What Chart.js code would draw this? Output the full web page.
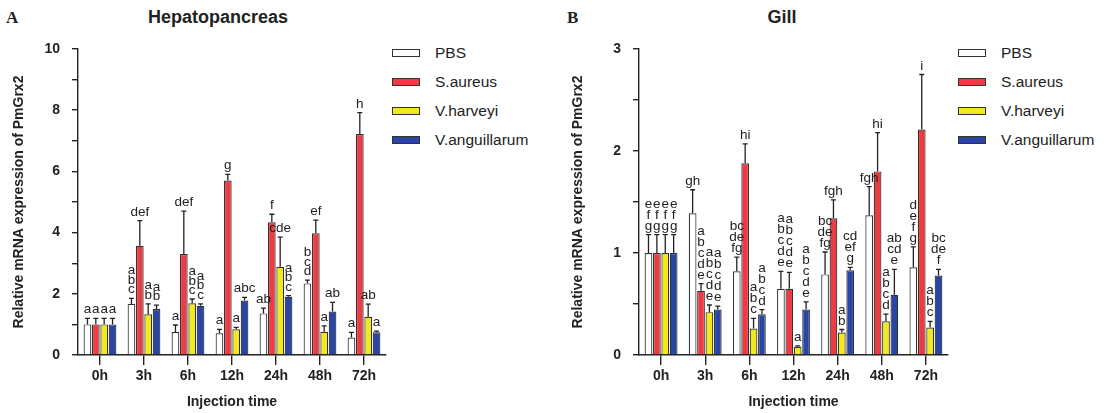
<!DOCTYPE html>
<html lang="en">
<head>
<meta charset="UTF-8">
<title>PmGrx2 expression</title>
<script src="https://cdn.jsdelivr.net/npm/chart.js"></script>
<style>
    body {
        margin: 0;
        width: 1109px;
        height: 413px;
        background: #fff;
        position: relative;
        overflow: hidden;
        font-family: "Liberation Sans", Arial, sans-serif;
        color: #222;
    }
    canvas { position: absolute; top: 0; }
    .tag { position: absolute; top: 8px; font: bold 17px "Liberation Serif", "Times New Roman", serif; }
    .title { position: absolute; top: 7px; font-weight: bold; font-size: 18px; transform: translateX(-50%); white-space: nowrap; }
    .legend { position: absolute; top: 38px; }
    .legend div { height: 29px; display: flex; align-items: center; font-size: 15.5px; }
    .legend .box { width: 26px; height: 6px; border: 1.3px solid #333; margin-right: 15px; }
</style>
</head>
<body>

<div class="tag" style="left:6px">A</div>
<div class="title" style="left:218px">Hepatopancreas</div>
<canvas id="hepChart" width="390" height="413" style="left:0"></canvas>
<div class="legend" id="hepLegend" style="left:392px"></div>

<div class="tag" style="left:567px">B</div>
<div class="title" style="left:782px">Gill</div>
<canvas id="gillChart" width="392" height="413" style="left:560px"></canvas>
<div class="legend" id="gillLegend" style="left:958px"></div>

<script>
    const times = ['0h', '3h', '6h', '12h', '24h', '48h', '72h'];
    const groups = ['PBS', 'S.aureus', 'V.harveyi', 'V.anguillarum'];
    const colors = ['#ffffff', '#ec3b41', '#f2e81e', '#2a46a5'];

    // Hepatopancreas: mean, upper error, significance letters
    const hepPBS = [1.0, 1.67, 0.75, 0.71, 1.36, 2.34, 0.57];
    const hepSaureus = [1.0, 3.57, 3.30, 5.70, 4.34, 3.98, 7.22];
    const hepVharveyi = [1.0, 1.33, 1.69, 0.84, 2.88, 0.76, 1.25];
    const hepVanguill = [1.0, 1.50, 1.61, 1.78, 1.90, 1.42, 0.74];
    const hepPBSErr = [0.2, 0.18, 0.23, 0.13, 0.17, 0.11, 0.17];
    const hepSaureusErr = [0.2, 0.82, 1.40, 0.20, 0.26, 0.43, 0.70];
    const hepVharveyiErr = [0.2, 0.34, 0.14, 0.06, 0.97, 0.19, 0.41];
    const hepVanguillErr = [0.2, 0.13, 0.06, 0.10, 0.04, 0.30, 0.04];
    const hepPBSSig = ['a', 'a\nb\nc', 'a', 'a', 'ab', 'b\nc\nd', 'a'];
    const hepSaureusSig = ['a', 'def', 'def', 'g', 'f', 'ef', 'h'];
    const hepVharveyiSig = ['a', 'a\nb', 'a\nb\nc', 'a', 'cde', 'a', 'ab'];
    const hepVanguillSig = ['a', 'a\nb', 'a\nb\nc', 'abc', 'a\nb\nc', 'ab', 'a'];

    // Gill
    const gillPBS = [1.0, 1.39, 0.82, 0.65, 0.79, 1.37, 0.86];
    const gillSaureus = [1.0, 0.63, 1.88, 0.65, 1.34, 1.80, 2.21];
    const gillVharveyi = [1.0, 0.42, 0.26, 0.08, 0.22, 0.33, 0.27];
    const gillVanguill = [1.0, 0.445, 0.40, 0.445, 0.83, 0.59, 0.78];
    const gillPBSErr = [0.18, 0.23, 0.14, 0.17, 0.22, 0.28, 0.20];
    const gillSaureusErr = [0.18, 0.07, 0.19, 0.16, 0.18, 0.38, 0.54];
    const gillVharveyiErr = [0.18, 0.07, 0.10, 0.01, 0.03, 0.07, 0.06];
    const gillVanguillErr = [0.18, 0.035, 0.045, 0.075, 0.03, 0.25, 0.06];
    const gillPBSSig = ['e\nf\ng', 'gh', 'bc\nde\nfg', 'a\nb\nc\nd\ne', 'bc\nde\nfg', 'fgh', 'd\ne\nf\ng'];
    const gillSaureusSig = ['e\nf\ng', 'a\nb\nc\nd\ne', 'hi', 'a\nb\nc\nd\ne', 'fgh', 'hi', 'i'];
    const gillVharveyiSig = ['e\nf\ng', 'a\nb\nc\nd\ne', 'a\nb\nc', 'a', 'a\nb', 'a\nb\nc\nd', 'a\nb\nc'];
    const gillVanguillSig = ['e\nf\ng', 'a\nb\nc\nd\ne', 'a\nb\nc\nd', 'a\nb\nc\nd\ne', 'cd\nef\ng', 'ab\ncd\ne', 'bc\nde\nf'];

    // error bars (upper only) + letters above them
    const errorBars = {
        id: 'errorBars',
        afterDatasetsDraw(chart, args, opts) {
            const ctx = chart.ctx;
            const y = chart.scales.y;
            ctx.save();
            chart.data.datasets.forEach((ds, i) => {
                chart.getDatasetMeta(i).data.forEach((bar, j) => {
                    const top = y.getPixelForValue(ds.data[j] + ds.errors[j]);
                    ctx.strokeStyle = '#222';
                    ctx.lineWidth = 1.3;
                    ctx.beginPath();
                    ctx.moveTo(bar.x, bar.y);
                    ctx.lineTo(bar.x, top);
                    ctx.moveTo(bar.x - 2.5, top);
                    ctx.lineTo(bar.x + 2.5, top);
                    ctx.stroke();

                    const lines = ds.letters[j].split('\n');
                    ctx.fillStyle = '#222';
                    ctx.font = opts.fontSize + 'px "Liberation Sans", Arial, sans-serif';
                    ctx.textAlign = 'center';
                    ctx.textBaseline = 'alphabetic';
                    lines.forEach((t, k) => {
                        ctx.fillText(t, bar.x, top - 5 - (lines.length - 1 - k) * opts.lineGap);
                    });
                });
            });
            ctx.restore();
        }
    };

    function makeDatasets(values, errors, letters) {
        return groups.map((g, i) => ({
            label: g,
            data: values[i],
            errors: errors[i],
            letters: letters[i],
            backgroundColor: colors[i],
            borderColor: '#333',
            borderWidth: 1.2,
            barPercentage: 0.92,
            categoryPercentage: 0.76
        }));
    }

    function makeChart(id, datasets, yMax, yStep, isLabel, yWidth, titlePad, lineGap, fontSize) {
        const axisFont = { family: '"Liberation Sans", Arial, sans-serif', size: 14, weight: 'bold' };
        return new Chart(document.getElementById(id), {
            type: 'bar',
            data: { labels: times, datasets: datasets },
            options: {
                responsive: false,
                animation: false,
                layout: { padding: { top: 49, right: 4, bottom: 0, left: 0 } },
                plugins: {
                    legend: { display: false },
                    tooltip: { enabled: false },
                    errorBars: { lineGap: lineGap, fontSize: fontSize }
                },
                scales: {
                    x: {
                        grid: { drawOnChartArea: false, drawTicks: true, tickLength: 10, offset: false, color: '#222', lineWidth: 1.4 },
                        border: { color: '#222', width: 1.4 },
                        ticks: { color: '#222', font: axisFont, padding: 3, maxRotation: 0 },
                        title: { display: true, text: 'Injection time', color: '#222', font: axisFont, padding: { top: 4, bottom: 2 } },
                        afterFit: s => { s.height = 58; }
                    },
                    y: {
                        min: 0,
                        max: yMax,
                        grid: { drawOnChartArea: false, drawTicks: true, tickLength: 6, color: '#222', lineWidth: 1.4 },
                        border: { color: '#222', width: 1.4 },
                        ticks: {
                            stepSize: yStep,
                            color: '#222',
                            font: axisFont,
                            padding: 12,
                            callback: v => isLabel(v) ? v : ''
                        },
                        title: { display: true, text: 'Relative mRNA expression of PmGrx2', color: '#222', font: axisFont, padding: { top: titlePad, bottom: 0 } },
                        afterFit: s => { s.width = yWidth; }
                    }
                }
            },
            plugins: [errorBars]
        });
    }

    function makeLegend(id) {
        const el = document.getElementById(id);
        groups.forEach((g, i) => {
            const row = document.createElement('div');
            row.innerHTML = '<span class="box" style="background:' + colors[i] + '"></span>' + g;
            el.appendChild(row);
        });
    }

    makeChart('hepChart',
        makeDatasets([hepPBS, hepSaureus, hepVharveyi, hepVanguill],
                     [hepPBSErr, hepSaureusErr, hepVharveyiErr, hepVanguillErr],
                     [hepPBSSig, hepSaureusSig, hepVharveyiSig, hepVanguillSig]),
        10, 1, v => v % 2 === 0, 78, 11, 9.5, 13.5);

    makeChart('gillChart',
        makeDatasets([gillPBS, gillSaureus, gillVharveyi, gillVanguill],
                     [gillPBSErr, gillSaureusErr, gillVharveyiErr, gillVanguillErr],
                     [gillPBSSig, gillSaureusSig, gillVharveyiSig, gillVanguillSig]),
        3, 0.5, v => Number.isInteger(v), 79, 10, 11, 13.5);

    makeLegend('hepLegend');
    makeLegend('gillLegend');
</script>

</body>
</html>
